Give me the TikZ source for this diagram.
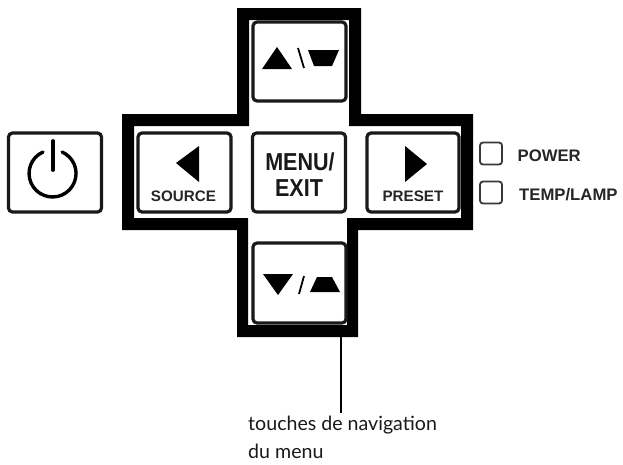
\documentclass[tikz,border=0pt]{standalone}
\usepackage{fontspec}
\setmainfont{Liberation Sans}
\newfontfamily\capfont{Lato}
\tikzset{
  x=1pt,y=-1pt,
  keybox/.style={draw=black!90,line width=3.2pt,rounded corners=4pt,fill=white,inner sep=0pt},
  ledbox/.style={draw=black!78,line width=1.8pt,rounded corners=3pt,fill=white,inner sep=0pt,minimum width=22pt,minimum height=22pt},
  keylabel/.style={font=\bfseries\fontsize{15.2}{16}\selectfont,text=black!85,inner sep=0pt,anchor=base},
  ledlabel/.style={font=\bfseries\fontsize{16.7}{18}\selectfont,text=black!85,inner sep=0pt,anchor=base west},
  menulabel/.style={font=\bfseries\fontsize{24.5}{26}\selectfont,text=black!90,inner sep=0pt,anchor=base},
  caplabel/.style={font=\capfont\fontsize{19.6}{22}\selectfont,text=black!90,inner sep=0pt,anchor=base west},
  glyph/.style={fill=black,draw=none},
  bar/.style={draw=black,line width=2pt},
}
\begin{document}
\begin{tikzpicture}
\useasboundingbox (0,0) rectangle (623,464);
\fill[white] (0,0) rectangle (623,464);
% cross frame
\fill[black,even odd rule]
 (237,8)--(361,8)--(361,114)--(473,114)--(473,230)--(358,230)--(358,337)--(237,337)--(237,230)--(122,230)--(122,114)--(237,114)--cycle
 (249,20)--(349,20)--(349,126)--(461,126)--(461,218)--(347,218)--(347,325)--(248,325)--(248,218)--(134,218)--(134,126)--(249,126)--cycle;
% keys
\node[keybox,minimum width=93pt,minimum height=79pt] (kup) at (299.5,61.5) {};
\node[keybox,minimum width=93pt,minimum height=79pt] (kpower) at (55,172.5) {};
\node[keybox,minimum width=93pt,minimum height=79pt] (ksource) at (184.5,172.5) {};
\node[keybox,minimum width=93pt,minimum height=79pt] (kmenu) at (299,172.5) {};
\node[keybox,minimum width=92pt,minimum height=79pt] (kpreset) at (413,172.5) {};
\node[keybox,minimum width=93pt,minimum height=80pt] (kdown) at (299.5,283) {};
% up key glyphs
\fill[glyph] (277,47)--(292,69)--(262,69)--cycle;
\draw[bar,line width=1.8pt] (298,48)--(304,68);
\fill[glyph] (308,50)--(339,50)--(332,66)--(314,66)--cycle;
% down key glyphs
\fill[glyph] (263,274)--(293,274)--(278,295)--cycle;
\draw[bar,line width=1.8pt] (299,294)--(304,276);
\fill[glyph] (317,277)--(332,277)--(340,292)--(310,292)--cycle;
% power glyph
\draw[black,line width=3.4pt,line cap=round] (43,152) arc[start angle=-114,end angle=-426,radius=23.5];
\draw[black,line width=3.8pt,line cap=round] (53,141)--(53,170);
% source / preset
\fill[glyph] (176,163)--(199,146)--(199,182)--cycle;
\fill[glyph] (405,146)--(427,164)--(405,182)--cycle;
\node[keylabel] (tsource) at (183.5,201) {SOURCE};
\node[keylabel] (tpreset) at (413,201) {PRESET};
\node[menulabel] (tmenu) at (300,170) {\scalebox{.88}[1]{MENU/}};
\node[menulabel] (texit) at (299,196) {\scalebox{.88}[1]{EXIT}};
% LEDs
\node[ledbox] (led1) at (491,153.5) {};
\node[ledbox] (led2) at (491,192.5) {};
\node[ledlabel] (tpower) at (517.5,161) {POWER};
\node[ledlabel] (ttemp) at (519,200) {TEMP/LAMP};
% caption and leader
\coordinate (ltop) at (341,337);
\node[caplabel] (cap1) at (248,430) {touches de navigation};
\node[caplabel] (cap2) at (248,458) {du menu};
\coordinate (lend) at (341,413);
\draw[bar] (ltop)--(lend);
\end{tikzpicture}
\end{document}
